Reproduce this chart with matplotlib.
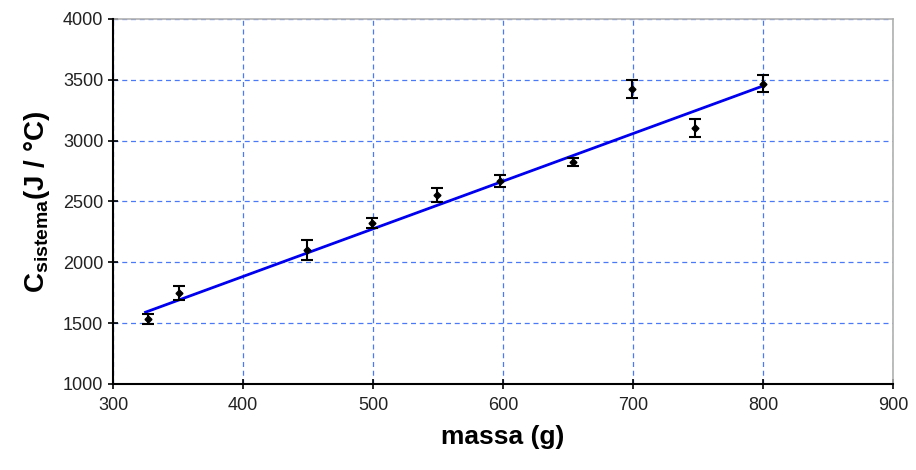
import numpy as np
import matplotlib
matplotlib.use('Agg')
import matplotlib.pyplot as plt

# data
massa = [327, 351, 449, 499, 549, 598, 654, 699, 748, 800]
c_sistema = [1535, 1748, 2100, 2322, 2553, 2668, 2825, 3425, 3104, 3466]
erro = [40, 60, 80, 40, 60, 50, 30, 75, 70, 70]
# trendline as drawn in the chart (end points)
trend_x = [325, 800]
trend_y = [1590, 3450]
xticks = [300, 400, 500, 600, 700, 800, 900]
yticks = [1000, 1500, 2000, 2500, 3000, 3500, 4000]

plt.rcParams['font.family'] = ['Liberation Sans', 'DejaVu Sans']
plt.rcParams['mathtext.fontset'] = 'custom'
plt.rcParams['mathtext.rm'] = 'Liberation Sans:bold'
plt.rcParams['mathtext.bf'] = 'Liberation Sans:bold'

fig = plt.figure(figsize=(9.16, 4.70), dpi=100)
ax = fig.add_axes([0.1234, 0.183, 0.8516, 0.7766])

# grid
ax.grid(True, color='#4a7af5', linestyle=(0, (4, 3)), linewidth=0.9)
ax.set_axisbelow(True)

# linear trendline
ax.plot(trend_x, trend_y, color='#0000ee', linewidth=2, zorder=2)

# data points with error bars
ax.errorbar(massa, c_sistema, yerr=erro, fmt='D', color='black', markersize=3.5,
            elinewidth=1.5, capsize=4, capthick=1.5, zorder=3)

ax.set_xlim(300, 900)
ax.set_ylim(1000, 4000)
ax.set_xticks(xticks)
ax.set_yticks(yticks)
ax.tick_params(labelsize=13, direction='inout', length=7, width=1.2,
               colors='black', labelcolor='#222222')
ax.tick_params(axis='x', pad=6)
ax.spines['top'].set_color('#b0b0b0')
ax.spines['right'].set_color('#b0b0b0')
ax.spines['top'].set_linewidth(1.2)
ax.spines['right'].set_linewidth(1.2)
ax.spines['left'].set_linewidth(1.5)
ax.spines['bottom'].set_linewidth(1.5)
ax.spines['left'].set_zorder(4)
ax.spines['bottom'].set_zorder(4)

ax.set_xlabel('massa (g)', fontsize=19, fontweight='bold', labelpad=8)
ax.set_ylabel(r'C$_{\mathrm{sistema}}$(J / °C)', fontsize=20, fontweight='bold', labelpad=8)

fig.savefig('out.png', dpi=100)
